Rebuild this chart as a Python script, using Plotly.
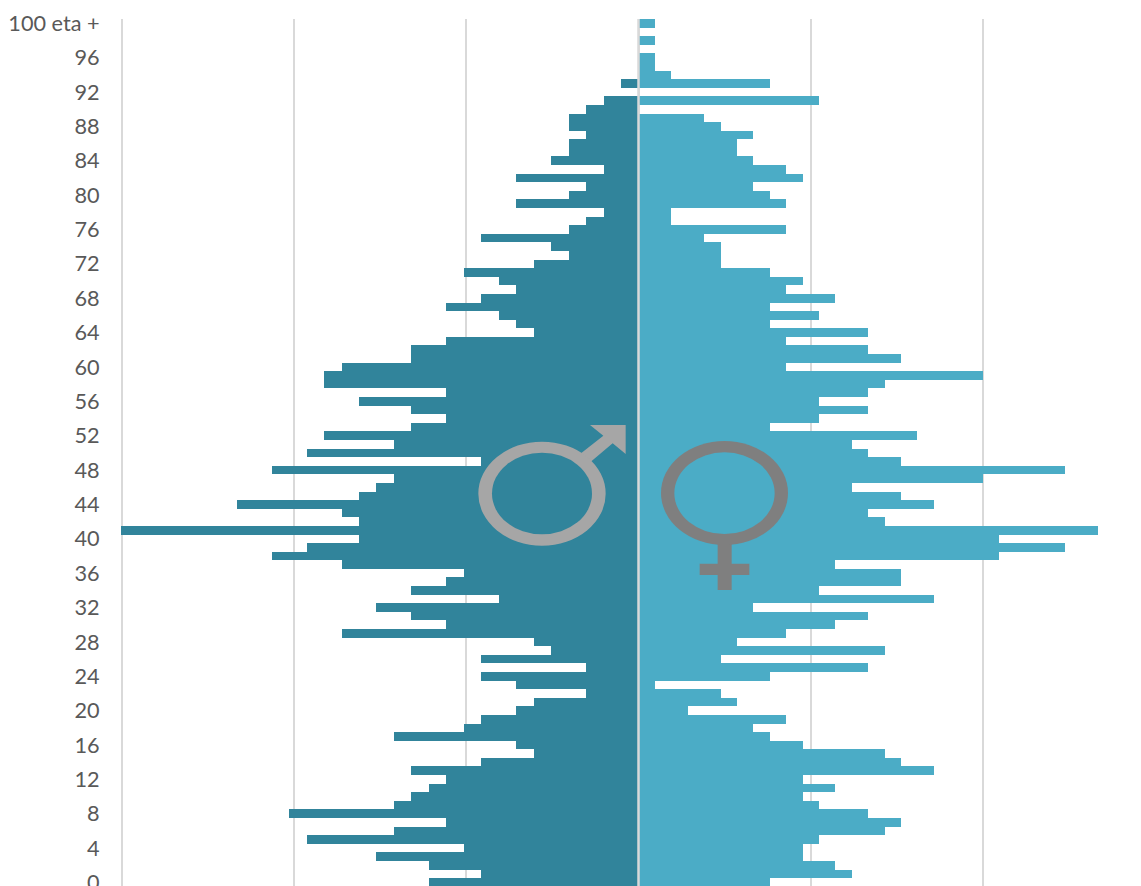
import plotly.graph_objects as go

ages = list(range(100, -1, -1))
male = [0,0,0,0,0,0,0,1,0,2,3,4,4,3,4,4,5,2,7,3,4,7,2,3,4,9,5,4,6,10,8,7,9,11,8,7,6,11,13,13,
        17,18,18,11,16,13,11,13,18,14,19,9,21,14,15,16,23,17,16,29.6,16,19,21,17,10,11,13,8,15,13,
        11,17,6,5,9,3,9,7,3,6,7,9,10,14,7,6,9,13,11,12,13,14,20,11,14,19,10,15,12,9,12]
female = [1,0,1,0,1,1,2,8,0,11,0,4,5,7,6,6,7,9,10,7,8,9,2,2,9,4,5,5,5,8,10,9,12,8,11,8,14,9,14,16,
          9,21,15,14,11,14,11,8,17,13,14,16,26,21,13,16,18,14,15,28,22,26,22,12,16,16,11,18,7,14,
          12,9,6,15,5,14,8,1,5,6,3,9,7,8,10,15,16,18,10,12,10,11,14,16,15,11,10,10,12,13,8]
tick_vals = [100 - 4 * i for i in range(26)]
tick_text = ["100 eta +"] + [str(v) for v in tick_vals[1:]]

W, H = 1141, 886
L, R, T, B = 120, 1110, 19, 886
CX = 638.5
MU, FU = 17.47, 16.4   # pixels per person on each side
GRID = 172.1

MALE_C, FEMALE_C = "#31849B", "#4BACC6"
GRID_C, TEXT_C = "#D9D9D9", "#595959"
MALE_SYM, FEMALE_SYM = "#A6A6A6", "#7F7F7F"

fig = go.Figure()
fig.add_bar(y=ages, x=[-v for v in male], orientation="h", width=1, marker=dict(color=MALE_C, line_width=0),
            xaxis="x", yaxis="y", name="Maschi")
fig.add_bar(y=ages, x=female, orientation="h", width=1, marker=dict(color=FEMALE_C, line_width=0),
            xaxis="x2", yaxis="y", name="Femmine")


def px(x):
    return (x - L) / (R - L)


def py(y):
    return (B - y) / (B - T)


def zx(v):
    return 470 + v / 3


def zy(v):
    return 415 + v / 3


def ellipse(x0, x1, y0, y1, fill):
    return dict(type="circle", xref="paper", yref="paper", x0=px(zx(x0)), x1=px(zx(x1)),
                y0=py(zy(y1)), y1=py(zy(y0)), fillcolor=fill, line_width=0, layer="above")


def poly(points, fill):
    d = "M " + " L ".join(f"{px(zx(a)):.5f},{py(zy(b)):.5f}" for a, b in points) + " Z"
    return dict(type="path", xref="paper", yref="paper", path=d, fillcolor=fill, line_width=0, layer="above")


shapes = [
    dict(type="line", xref="x", yref="paper", x0=0, x1=0, y0=0, y1=1,
         line=dict(color=GRID_C, width=2.5), layer="above"),
    poly([(335, 113), (400, 62), (360, 30), (467, 30), (467, 117), (428, 85), (365, 138), (345, 150), (320, 125)], MALE_SYM),
    ellipse(25, 407, 80, 392, MALE_SYM),
    ellipse(66, 366, 113, 358, MALE_C),
    poly([(743, 380), (785, 380), (785, 446), (838, 446), (838, 480), (785, 480), (785, 525),
          (743, 525), (743, 480), (689, 480), (689, 446), (743, 446)], FEMALE_SYM),
    ellipse(573, 954, 78, 390, FEMALE_SYM),
    ellipse(613, 914, 112, 357, FEMALE_C),
]

fig.update_layout(
    width=W, height=H, margin=dict(l=L, r=W - R, t=T, b=H - B, pad=0, autoexpand=False),
    paper_bgcolor="white", plot_bgcolor="white", showlegend=False,
    barmode="overlay", bargap=0, shapes=shapes,
    font=dict(family="Lato, Carlito, sans-serif", size=21.7, color=TEXT_C),
    xaxis=dict(range=[(L - CX) / MU, (R - CX) / MU], tick0=0, dtick=GRID / MU, showticklabels=False, automargin=False,
               showgrid=True, gridcolor=GRID_C, gridwidth=1.5, zeroline=False, showline=False, ticks="", fixedrange=True),
    xaxis2=dict(range=[(L - CX) / FU, (R - CX) / FU], overlaying="x", side="bottom", showgrid=False, automargin=False,
                showticklabels=False, zeroline=False, showline=False, ticks="", fixedrange=True),
    yaxis=dict(range=[-0.41, 100.5], tickmode="array", tickvals=tick_vals, ticktext=tick_text, automargin=False,
               ticks="outside", ticklen=15, tickcolor="rgba(0,0,0,0)", showgrid=False, zeroline=False,
               showline=False, fixedrange=True, ticklabeloverflow="allow"),
)

fig.write_html("out.html", config=dict(displayModeBar=False),
               post_script="document.documentElement.style.overflow='hidden';document.body.style.margin='0';document.body.style.overflow='hidden';")
